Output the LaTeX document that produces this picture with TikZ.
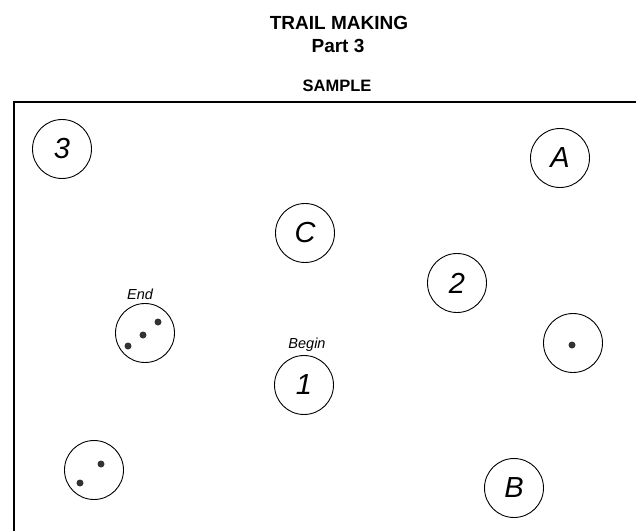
\documentclass[tikz,border=0pt]{standalone}
\usepackage{fontspec}
\setmainfont{Liberation Sans}
\usepackage{tikz}

\tikzset{
  tmcircle/.style={circle, draw, line width=0.9pt, minimum size=59pt, inner sep=0pt,
    font=\fontsize{29}{29}\selectfont\itshape},
  tmnote/.style={anchor=base, font=\fontsize{14.5}{14.5}\selectfont\itshape},
  tmdot/.style={circle, fill=black!80, inner sep=0pt, minimum size=7pt},
  tmhead/.style={font=\fontsize{19}{19}\selectfont\bfseries}
}

\begin{document}
\begin{tikzpicture}[x=1pt,y=-1pt]
\useasboundingbox (0,0) rectangle (636,531);
% heading
\node[tmhead] (title) at (339,22.5) {TRAIL MAKING};
\node[tmhead] (part) at (338,45.5) {Part 3};
\node[font=\fontsize{16.5}{16.5}\selectfont\bfseries] (sample) at (337,86) {SAMPLE};
% frame, cut off at right and bottom
\draw[line width=1.4pt] (636,102) -- (14,102) -- (14,531);
% circles
\node[tmcircle] (three) at (62,149) {3};
\node[tmcircle] (cee) at (305,233) {C};
\node[tmcircle] (ay) at (560,158) {A};
\node[tmcircle] (two) at (457,283) {2};
\node[tmcircle] (one) at (304,385) {1};
\node[tmcircle] (bee) at (514,488) {B};
\node[tmcircle] (dotsthree) at (145,333) {};
\node[tmcircle] (dotsone) at (573,343) {};
\node[tmcircle] (dotstwo) at (94,470) {};
% dots
\node[tmdot] (e1) at (128,346) {};
\node[tmdot] (e2) at (143,335) {};
\node[tmdot] (e3) at (158,322) {};
\node[tmdot] (r1) at (572,345) {};
\node[tmdot] (l1) at (101,464) {};
\node[tmdot] (l2) at (80,483) {};
% notes
\node[tmnote] (endnote) at (140,299) {End};
\node[tmnote] (beginnote) at (307,348) {Begin};
\end{tikzpicture}
\end{document}
